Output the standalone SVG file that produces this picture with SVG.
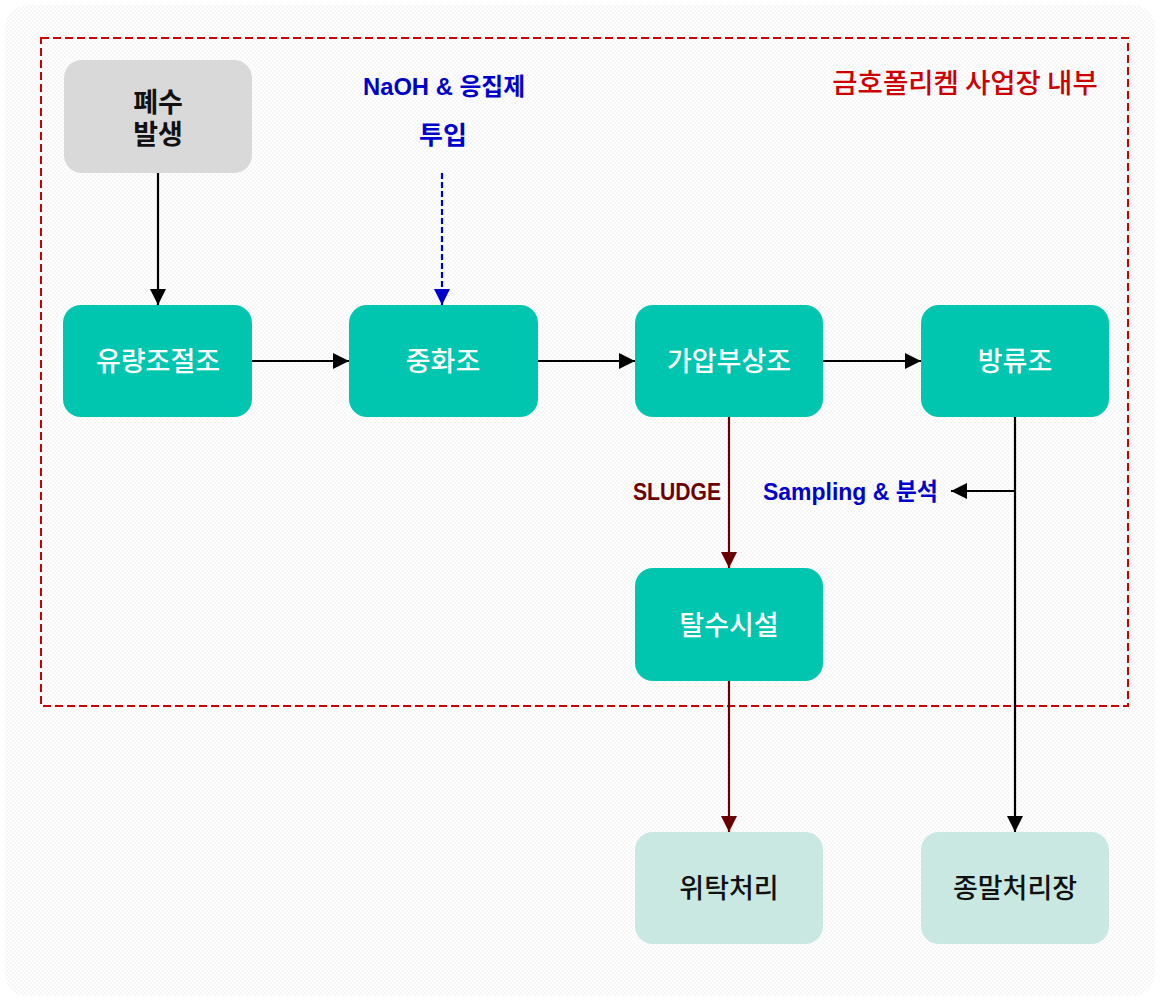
<svg xmlns="http://www.w3.org/2000/svg" width="1160" height="1001" viewBox="0 0 1160 1001">
  <defs>
    <pattern id="bgpat" width="4" height="4" patternUnits="userSpaceOnUse">
      <rect width="4" height="4" fill="#ffffff"/>
      <rect width="2" height="2" fill="#f6f6f6"/>
      <rect x="2" y="2" width="2" height="2" fill="#f6f6f6"/>
    </pattern>
    <marker id="arrBig" viewBox="0 0 16 16" refX="16" refY="8" markerWidth="16" markerHeight="16" markerUnits="userSpaceOnUse" orient="auto">
      <path d="M0,0 L16,8 L0,16 Z" fill="#000"/>
    </marker>
    <marker id="arrRed" viewBox="0 0 16 16" refX="16" refY="8" markerWidth="16" markerHeight="16" markerUnits="userSpaceOnUse" orient="auto">
      <path d="M0,0 L16,8 L0,16 Z" fill="#6b0000"/>
    </marker>
    <marker id="arrBlue" viewBox="0 0 16 16" refX="16" refY="8" markerWidth="16" markerHeight="16" markerUnits="userSpaceOnUse" orient="auto">
      <path d="M0,0 L16,8 L0,16 Z" fill="#0000cc"/>
    </marker>
  </defs>
  <style>
    .ko { font-family: "Noto Sans CJK KR", "Noto Sans", sans-serif; }
    .lbl { font-family: "Liberation Sans", "Noto Sans CJK KR", sans-serif; font-weight: bold; }
    .proc { fill: #00c6b0; }
    .src { fill: #d9d9d9; }
    .end { fill: #c9e8e1; }
    .wt { fill: #ffffff; font-size: 27px; font-weight: 500; text-anchor: middle; }
    .bk { fill: #111111; font-size: 27px; font-weight: 500; text-anchor: middle; }
    .ln { fill: none; stroke-width: 2.2; }
  </style>
  <rect x="5" y="5" width="1150" height="991" rx="22" fill="url(#bgpat)"/>
  <rect id="boundary" x="41" y="38" width="1087" height="668" fill="none" stroke="#cc0000" stroke-width="2" stroke-dasharray="8,4"/>
  <text class="ko" x="965" y="93" font-size="27.5" font-weight="500" fill="#cc0000" text-anchor="middle">금호폴리켐 사업장 내부</text>

  <g id="connectors">
    <line class="ln" x1="158" y1="173" x2="158" y2="305" stroke="#000" marker-end="url(#arrBig)"/>
    <line class="ln" x1="442" y1="173" x2="442" y2="305" stroke="#0000cc" stroke-dasharray="6,3" marker-end="url(#arrBlue)"/>
    <line class="ln" x1="252" y1="361" x2="349" y2="361" stroke="#000" marker-end="url(#arrBig)"/>
    <line class="ln" x1="538" y1="361" x2="635" y2="361" stroke="#000" marker-end="url(#arrBig)"/>
    <line class="ln" x1="823" y1="361" x2="921" y2="361" stroke="#000" marker-end="url(#arrBig)"/>
    <line class="ln" x1="729" y1="417" x2="729" y2="568" stroke="#6b0000" stroke-width="2.5" marker-end="url(#arrRed)"/>
    <line class="ln" x1="729" y1="681" x2="729" y2="832" stroke="#6b0000" stroke-width="2.5" marker-end="url(#arrRed)"/>
    <line class="ln" x1="1015" y1="417" x2="1015" y2="832" stroke="#000" marker-end="url(#arrBig)"/>
    <line class="ln" x1="1015" y1="491" x2="951" y2="491" stroke="#000" marker-end="url(#arrBig)"/>
    <text class="lbl" x="633" y="500" font-size="24" fill="#6b0000" textLength="88" lengthAdjust="spacingAndGlyphs">SLUDGE</text>
    <text class="lbl" x="763" y="500" font-size="24" fill="#0000cc" textLength="175" lengthAdjust="spacingAndGlyphs">Sampling &amp; 분석</text>
    <text class="lbl" x="363" y="95" font-size="24" fill="#0000cc" textLength="162" lengthAdjust="spacingAndGlyphs">NaOH &amp; 응집제</text>
    <text class="lbl" x="419" y="144" font-size="25" fill="#0000cc" textLength="48" lengthAdjust="spacingAndGlyphs">투입</text>
  </g>

  <g id="node-source">
    <rect class="src" x="64" y="60" width="188" height="113" rx="18"/>
    <text class="ko" font-size="27" font-weight="bold" fill="#111" text-anchor="middle"><tspan x="158" y="112">폐수</tspan><tspan x="158" y="144">발생</tspan></text>
  </g>
  <g id="node-equalization">
    <rect class="proc" x="63" y="305" width="189" height="112" rx="18"/>
    <text class="ko wt" x="158" y="371">유량조절조</text>
  </g>
  <g id="node-neutralization">
    <rect class="proc" x="349" y="305" width="189" height="112" rx="18"/>
    <text class="ko wt" x="443" y="371">중화조</text>
  </g>
  <g id="node-daf">
    <rect class="proc" x="635" y="305" width="188" height="112" rx="18"/>
    <text class="ko wt" x="729" y="371">가압부상조</text>
  </g>
  <g id="node-discharge">
    <rect class="proc" x="921" y="305" width="188" height="112" rx="18"/>
    <text class="ko wt" x="1015" y="371">방류조</text>
  </g>
  <g id="node-dewatering">
    <rect class="proc" x="635" y="568" width="188" height="113" rx="18"/>
    <text class="ko wt" x="729" y="635">탈수시설</text>
  </g>
  <g id="node-outsourcing">
    <rect class="end" x="635" y="832" width="188" height="112" rx="18"/>
    <text class="ko bk" x="729" y="898">위탁처리</text>
  </g>
  <g id="node-terminal">
    <rect class="end" x="921" y="832" width="188" height="112" rx="18"/>
    <text class="ko bk" x="1015" y="898">종말처리장</text>
  </g>
</svg>
